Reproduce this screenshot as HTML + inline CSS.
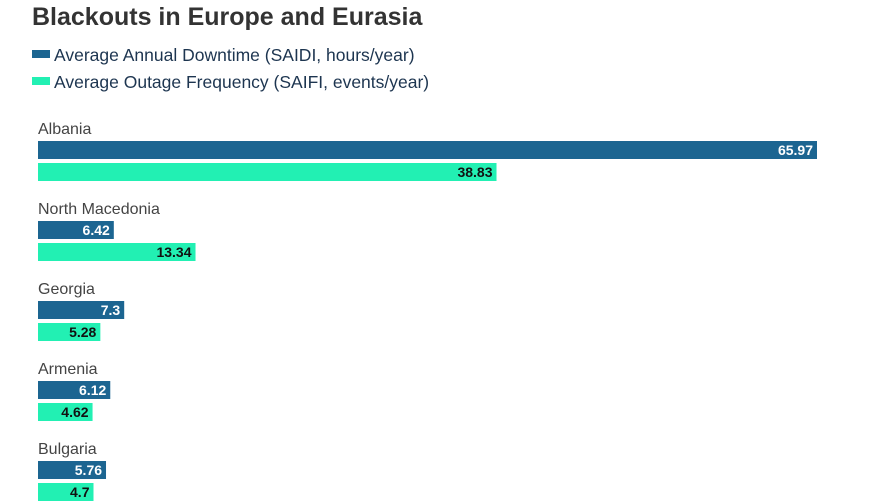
<!DOCTYPE html>
<html><head><meta charset="utf-8"><style>
body{margin:0;width:891px;height:502px;background:#fff;overflow:hidden;font-family:"Liberation Sans","DejaVu Sans",sans-serif}
#t{position:absolute;left:32px;top:3px;font-size:25px;font-weight:bold;color:#333}
.lg{position:absolute;left:32px;font-size:17.5px;color:#1d3550}
.sw{display:inline-block;width:18px;height:8px;margin-right:4px;vertical-align:middle;position:relative;top:-2px}
</style></head><body>
<div id="t">Blackouts in Europe and Eurasia</div>
<div class="lg" style="top:45px"><span class="sw" style="background:#1c6591"></span>Average Annual Downtime (SAIDI, hours/year)</div>
<div class="lg" style="top:72px"><span class="sw" style="background:#22f0b3"></span>Average Outage Frequency (SAIFI, events/year)</div>
<svg id="c" width="891" height="502" style="position:absolute;left:0;top:0"></svg>
<script>
const categories=["Albania","North Macedonia","Georgia","Armenia","Bulgaria"];
const saidi=[65.97,6.42,7.3,6.12,5.76];
const saifi=[38.83,13.34,5.28,4.62,4.7];
const saidiLabels=["65.97","6.42","7.3","6.12","5.76"];
const saifiLabels=["38.83","13.34","5.28","4.62","4.7"];
const svg=document.getElementById('c');const NS="http://www.w3.org/2000/svg";
const x0=38,scale=779/65.97;
const xw=v=>v*scale;
const gy=i=>128+i*80;
function mk(t,a){const e=document.createElementNS(NS,t);for(const k in a)e.setAttribute(k,a[k]);svg.appendChild(e);return e;}
categories.forEach((c,i)=>{
 const y=gy(i);
 const l=mk('text',{x:x0,y:y+6,'font-size':16,fill:'#444'});l.textContent=c;
 
 
 [[saidi,saidiLabels,'#1c6591','#fff',13,'bar-saidi'],[saifi,saifiLabels,'#22f0b3','#111',35,'bar-saifi']].forEach(([d,lb,col,tc,off,nm])=>{
  const w=xw(d[i]);
  const r=mk('rect',{x:x0,y:y+off,width:w,height:18,fill:col});
  
  
  const t=mk('text',{x:x0+w-4,y:y+off+14,'font-size':14,'font-weight':'bold',fill:tc,'text-anchor':'end'});t.textContent=lb[i];
  
  
 });
});
</script>
</body></html>
